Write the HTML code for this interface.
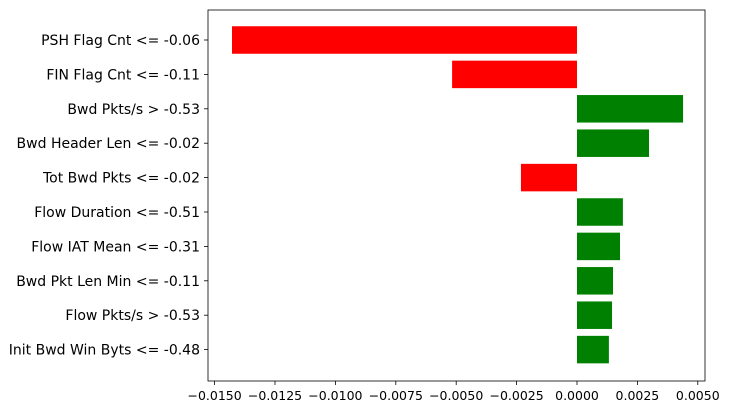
<!DOCTYPE html>
<html><head><meta charset="utf-8"><style>
body{margin:0;background:#fff;}
svg{font-family:"DejaVu Sans","Liberation Sans",sans-serif;}
</style></head><body>
<svg id="chart" width="730" height="413"></svg>
<script>
const categories=["PSH Flag Cnt <= -0.06","FIN Flag Cnt <= -0.11","Bwd Pkts/s > -0.53","Bwd Header Len <= -0.02","Tot Bwd Pkts <= -0.02","Flow Duration <= -0.51","Flow IAT Mean <= -0.31","Bwd Pkt Len Min <= -0.11","Flow Pkts/s > -0.53","Init Bwd Win Byts <= -0.48"];
const values=[-0.01428,-0.00517,0.00439,0.00298,-0.00232,0.0019,0.00178,0.00149,0.00145,0.00132];
const ticks=[-0.015,-0.0125,-0.01,-0.0075,-0.005,-0.0025,0,0.0025,0.005];
const tickLabels=["−0.0150","−0.0125","−0.0100","−0.0075","−0.0050","−0.0025","0.0000","0.0025","0.0050"];
const NS="http://www.w3.org/2000/svg";
const svg=document.getElementById('chart');
const L=208,R=705,T=10,B=381;
const x=v=>577+v*24160;
const y=i=>40+i*34.4;
const bh=27.5;
function mk(t,a){const e=document.createElementNS(NS,t);for(const k in a)e.setAttribute(k,a[k]);svg.appendChild(e);return e;}
values.forEach((v,i)=>{
 const r=mk('rect',{x:Math.min(x(v),x(0)),y:y(i)-bh/2,width:Math.abs(x(v)-x(0)),height:bh,fill:v<0?'#ff0000':'#008000'});
 
 
 mk('line',{x1:L-4,x2:L,y1:y(i),y2:y(i),stroke:'#000','stroke-width':0.8});
 const t=mk('text',{x:L-8,y:y(i)+5,'text-anchor':'end','font-size':14,fill:'#000'});
 t.textContent=categories[i];
 
 
});
ticks.forEach((v,i)=>{
 mk('line',{x1:x(v),x2:x(v),y1:B,y2:B+4,stroke:'#000','stroke-width':0.8});
 const t=mk('text',{x:x(v),y:B+19,'text-anchor':'middle','font-size':12.5,fill:'#000'});
 t.textContent=tickLabels[i];
 
 
});
const f=mk('rect',{x:L,y:T,width:R-L,height:B-T,fill:'none',stroke:'#000','stroke-width':0.8});


</script>
</body></html>
